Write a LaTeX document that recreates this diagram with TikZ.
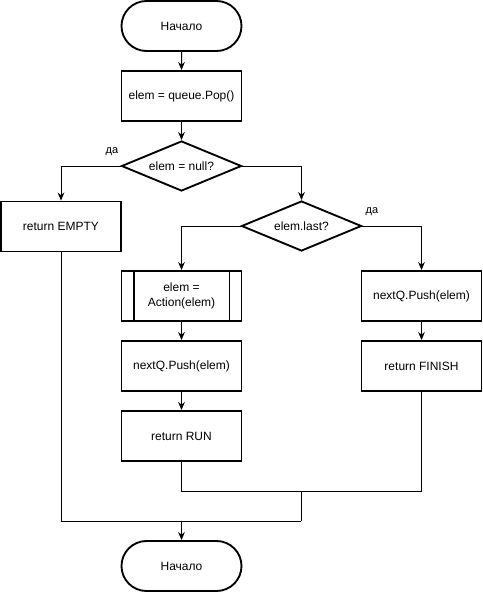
\documentclass[tikz,border=0pt]{standalone}
\usepackage{fontspec}
\setmainfont{Liberation Sans}
\usetikzlibrary{shapes.geometric,shapes.misc,arrows.meta}
\begin{document}
\begin{tikzpicture}[x=0.75pt,y=-0.75pt,
  font=\fontsize{9}{11}\selectfont,
  box/.style={draw=black,line width=1.4pt,rectangle,minimum width=90pt,minimum height=37.5pt,inner sep=0pt,align=center},
  term/.style={draw=black,line width=1.4pt,rounded rectangle,minimum width=90pt,minimum height=37.5pt,inner sep=0pt},
  decision/.style={draw=black,line width=1.4pt,diamond,aspect=2.4,minimum width=90pt,minimum height=37.5pt,inner sep=0pt},
  conn/.style={line width=0.75pt,-{Stealth[length=6pt,width=5pt]}},
  wire/.style={line width=0.75pt},
  lbl/.style={font=\fontsize{8.25}{10}\selectfont,inner sep=0pt}]
\useasboundingbox (0,0) rectangle (482,592);
\node[term] (start) at (181.5,26) {Начало};
\node[box] (pop) at (181.5,96) {elem = queue.Pop()};
\node[decision] (d1) at (181.5,166) {elem = null?};
\node[box] (empty) at (61,226.5) {return EMPTY};
\node[decision] (d2) at (301.5,226) {elem.last?};
\node[box] (act) at (181.5,296) {elem =\\Action(elem)};
\draw[line width=1.4pt] ([xshift=9.75pt]act.north west) -- ([xshift=9.75pt]act.south west);
\draw[line width=1.4pt] ([xshift=-9.75pt]act.north east) -- ([xshift=-9.75pt]act.south east);
\node[box] (pushL) at (181.5,366) {nextQ.Push(elem)};
\node[box] (run) at (181.5,436) {return RUN};
\node[box] (pushR) at (421.5,296) {nextQ.Push(elem)};
\node[box] (finish) at (421.5,366) {return FINISH};
\node[term] (end) at (181.5,566) {Начало};
\node[lbl] (yes1) at (112,152) {да};
\node[lbl] (yes2) at (372,212) {да};
\coordinate (m1) at (301,491);
\coordinate (m2) at (301,521);
\coordinate (m3) at (181.5,521);
\draw[conn] (start) -- (pop);
\draw[conn] (pop) -- (d1);
\draw[conn] (d1.west) -| (empty.north);
\draw[conn] (d1.east) -| (d2.north);
\draw[conn] (d2.west) -| (act.north);
\draw[conn] (d2.east) -| (pushR.north);
\draw[conn] (act) -- (pushL);
\draw[conn] (pushL) -- (run);
\draw[conn] (pushR) -- (finish);
\draw[wire] (run.south) |- (m1);
\draw[wire] (finish.south) |- (m1);
\draw[wire] (m1) -- (m2);
\draw[wire] (empty.south) |- (m2);
\draw[conn] (m3) -- (end.north);
\end{tikzpicture}
\end{document}
